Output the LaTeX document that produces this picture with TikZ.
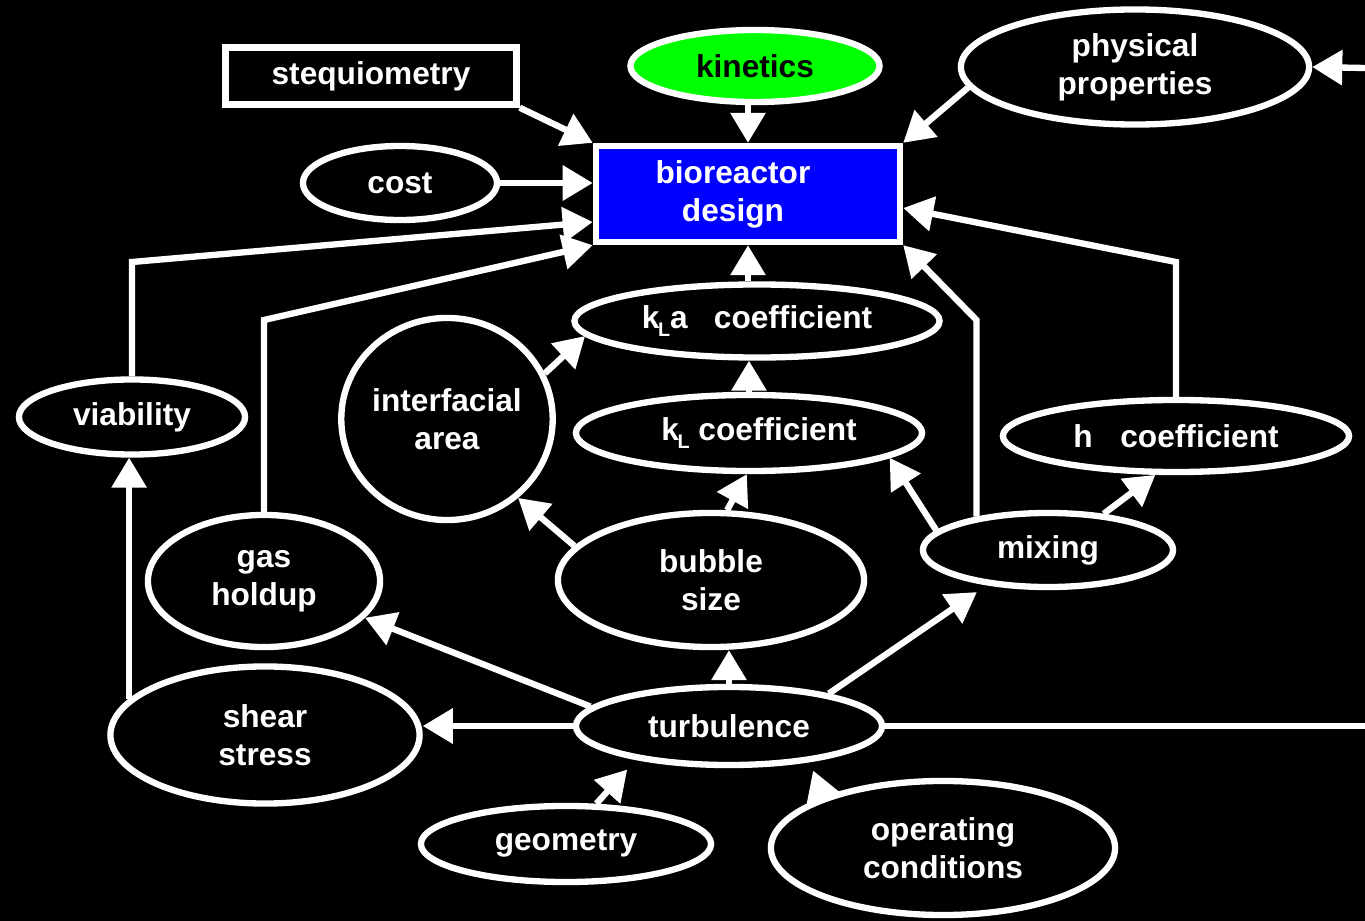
\documentclass[tikz,border=0pt]{standalone}
\usepackage{fontspec}
\setmainfont{Liberation Sans}
\usetikzlibrary{shapes.geometric,arrows.meta}
\definecolor{limegreen}{RGB}{0,255,0}
\definecolor{pureblue}{RGB}{0,0,255}
\newcommand{\mysub}[1]{\kern-0.04em\raisebox{-0.28em}{\fontsize{5.6}{5.6}\selectfont #1}}
\begin{document}
\begin{tikzpicture}[x=0.01cm,y=-0.01cm,
  lw/.style={line width=1.8pt},
  txt/.style={text=white, font=\fontsize{9}{10.8}\selectfont\bfseries, align=center},
  nd/.style={draw=white, lw, txt, inner sep=0pt, fill=black},
  ell/.style={nd, ellipse},
  box/.style={nd, rectangle},
  arr/.style={draw=white, lw, -{Triangle[length=0.30cm,width=0.34cm]}},
  ln/.style={draw=white, lw},
]
\fill[black] (0,0) rectangle (1365,921);
\useasboundingbox (0,0) rectangle (1365,921);

% nodes
\node[box, minimum width=2.91cm, minimum height=0.57cm] (steq) at (371,76) {stequiometry};
\node[ell, fill=limegreen, text=black, minimum width=2.49cm, minimum height=0.72cm] (kin) at (755,66) {kinetics};
\node[ell, minimum width=3.48cm, minimum height=1.15cm] (phys) at (1135,67) {physical\\properties};
\node[box, fill=pureblue, minimum width=3.04cm, minimum height=0.96cm,
      label={[txt, xshift=-0.15cm]center:{bioreactor\\design}}] (bio) at (748,194) {};
\node[ell, minimum width=1.94cm, minimum height=0.74cm] (cost) at (400,183) {cost};
\node[ell, minimum width=2.26cm, minimum height=0.75cm] (via) at (132,417) {viability};
\node[ell, minimum width=2.10cm, minimum height=2.02cm] (ia) at (447,419) {interfacial\\area};
\node[ell, minimum width=3.65cm, minimum height=0.73cm] (kla) at (757,321) {k\mysub{L}a\hspace{0.55em} coefficient};
\node[ell, minimum width=3.46cm, minimum height=0.76cm] (kl) at (749,433) {\hspace*{0.2cm}k\mysub{L} coefficient};
\node[ell, minimum width=2.32cm, minimum height=1.32cm] (gas) at (264,581) {gas\\holdup};
\node[ell, minimum width=3.06cm, minimum height=1.34cm] (bub) at (711,580) {bubble\\size};
\node[ell, minimum width=2.50cm, minimum height=0.74cm] (mix) at (1048,550) {mixing};
\node[ell, minimum width=3.46cm, minimum height=0.72cm] (hco) at (1176,436) {h\hspace{0.6em} coefficient};
\node[ell, minimum width=3.06cm, minimum height=0.78cm] (turb) at (729,726) {turbulence};
\node[ell, minimum width=3.09cm, minimum height=1.37cm] (shear) at (265,735) {shear\\stress};
\node[ell, minimum width=2.90cm, minimum height=0.76cm] (geo) at (566,844) {geometry};
\node[ell, minimum width=3.44cm, minimum height=1.34cm] (op) at (943,848) {operating\\conditions};

% helper coordinates
\coordinate (eR1) at (1365,68);
\coordinate (eR2) at (1365,726);
\coordinate (v1) at (132,262);
\coordinate (v2) at (0,222);
\coordinate (g1) at (264,320);
\coordinate (m1) at (0,320);
\coordinate (h1) at (0,262);
\coordinate (h2) at (0,208);

% connectors
\draw[arr] (steq.south east) -- (bio.north west);
\draw[arr] (cost.east) -- (cost.east -| bio.west);
\draw[arr] (bio.north |- kin.south) -- (bio.north);
\draw[arr] (phys.187) -- (bio.north east);
\draw[arr] (eR1) -- (phys.east);
\draw[arr] (via.north) -- (v1) -- (bio.west |- v2);
\draw[arr] (gas.north) -- (g1) -- (bio.south west);
\draw[arr] (shear.165) -- (shear.165 |- via.south);
\draw[arr] (ia.25) -- (kla.185);
\draw[arr] (kl.north) -- (kl.north |- kla.south);
\draw[arr] (bio.south |- kla.north) -- (bio.south);
\draw[arr] (bub.77) -- (kl.267);
\draw[arr] (bub.166) -- (ia.312);
\draw[arr] (mix.170) -- (kl.350);
\draw[arr] (mix.33) -- (hco.242);
\draw[arr] (mix.155) -- (mix.155 |- m1) -- (bio.south east);
\draw[arr] (hco.north) -- (hco.north |- h1) -- (bio.east |- h2);
\draw[arr] (turb.north) -- (turb.north |- bub.south);
\draw[arr] (turb.172) -- (gas.340);
\draw[arr, shorten >=0.12cm] (turb.18) -- (mix.210);
\draw[arr] (turb.west) -- (turb.west -| shear.east);
\draw[ln] (turb.east) -- (eR2);
\draw[arr, shorten >=0.13cm] (geo.53) -- (turb.200);
\draw[arr, shorten >=0.09cm] (op.157) -- (turb.336);
\end{tikzpicture}
\end{document}
